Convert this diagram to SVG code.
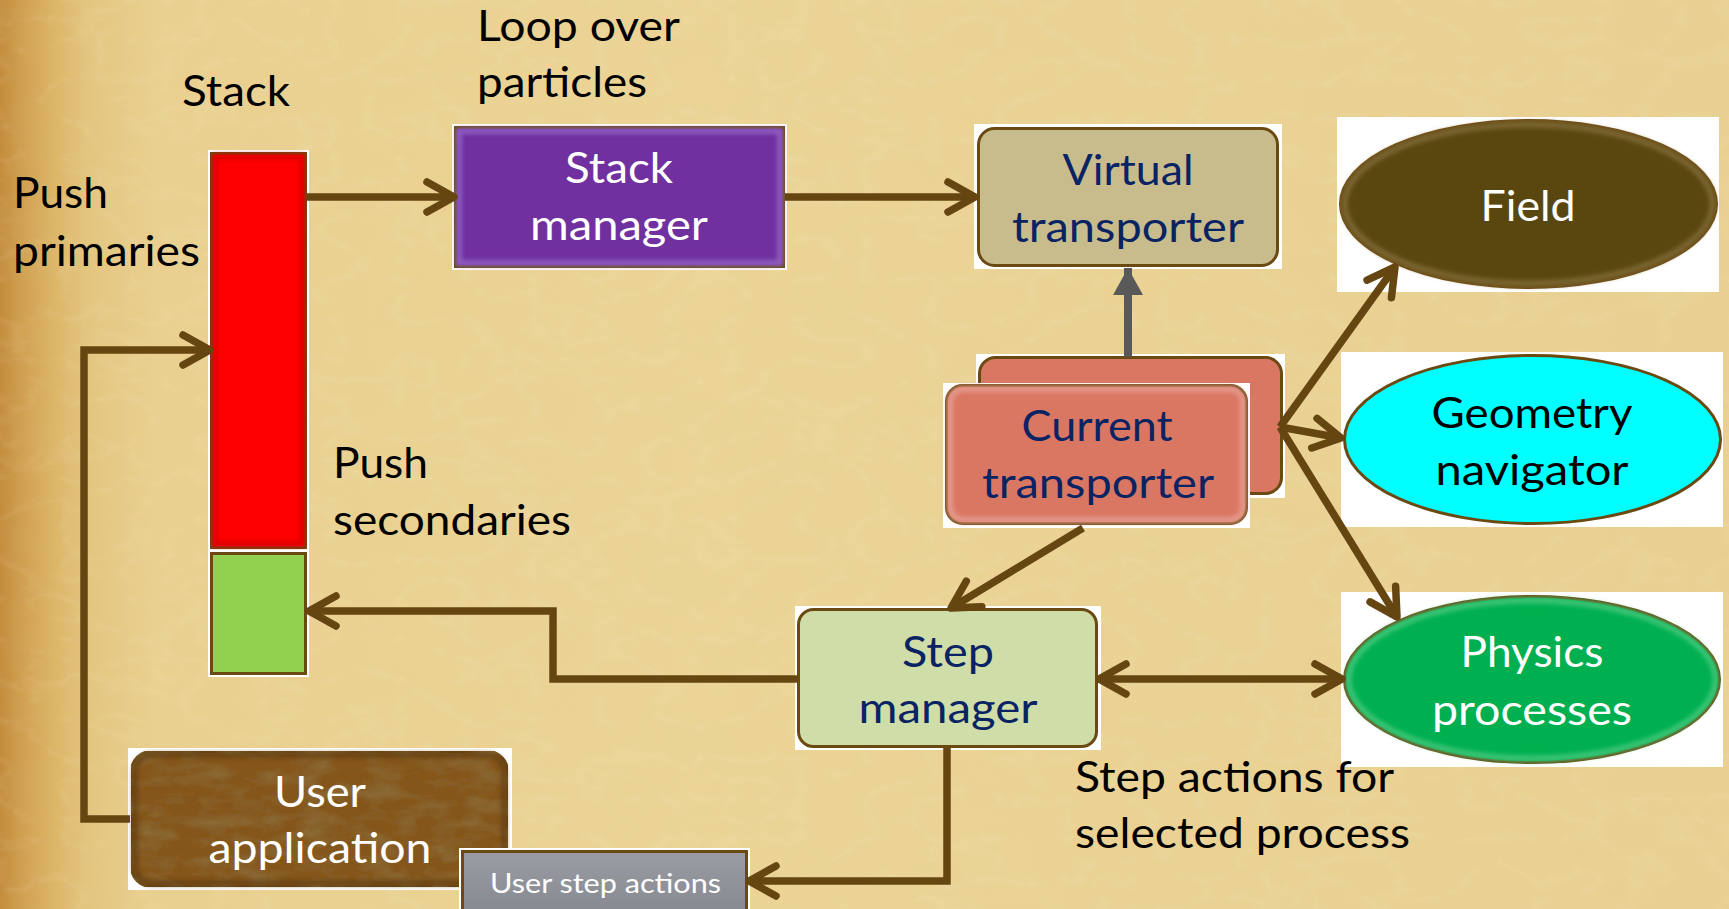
<svg xmlns="http://www.w3.org/2000/svg" width="1729" height="909" viewBox="0 0 1729 909">
<defs>
  <style>
    text { font-family: "Lato", "Liberation Sans", sans-serif; }
    .big { font-size: 43px; }
    .small { font-size: 27px; }
    .mid { text-anchor: middle; }
    .ink { fill: #000000; }
    .navy { fill: #0a2363; }
    .white { fill: #ffffff; }
    .bg { fill: #ffffff; }
    .edge { stroke: #6b4a12; stroke-width: 3; }
    .wire { fill: none; stroke: #654510; stroke-width: 7.5; stroke-linecap: butt; stroke-linejoin: miter; }
    .glow { fill: none; stroke-width: 6; filter: url(#soft); }
  </style>
  <linearGradient id="paperTone" x1="0" y1="0" x2="1" y2="0">
    <stop offset="0" stop-color="#c28c3c"/>
    <stop offset="0.012" stop-color="#d09f50"/>
    <stop offset="0.03" stop-color="#dbb466"/>
    <stop offset="0.05" stop-color="#e3c57f"/>
    <stop offset="0.09" stop-color="#e9d090"/>
    <stop offset="0.4" stop-color="#ebd496"/>
    <stop offset="1" stop-color="#e9d092"/>
  </linearGradient>
  <linearGradient id="grayFace" x1="0" y1="0" x2="0" y2="1">
    <stop offset="0" stop-color="#9a9ca4"/>
    <stop offset="1" stop-color="#85878f"/>
  </linearGradient>
  <filter id="paperNoise" x="0" y="0" width="100%" height="100%">
    <feTurbulence type="turbulence" baseFrequency="0.015 0.025" numOctaves="4" seed="7" result="n"/>
    <feColorMatrix in="n" type="matrix" values="0 0 0 0 1  0 0 0 0 0.97  0 0 0 0 0.85  -2.2 0 0 0 0.55"/>
  </filter>
  <filter id="paperDark" x="0" y="0" width="100%" height="100%">
    <feTurbulence type="fractalNoise" baseFrequency="0.01 0.018" numOctaves="4" seed="21" result="n"/>
    <feColorMatrix in="n" type="matrix" values="0 0 0 0 0.78  0 0 0 0 0.6  0 0 0 0 0.3  1.2 0 0 0 -0.5"/>
  </filter>
  <filter id="leather" x="0" y="0" width="100%" height="100%">
    <feTurbulence type="fractalNoise" baseFrequency="0.03 0.07" numOctaves="5" seed="3" result="n"/>
    <feColorMatrix in="n" type="matrix" values="0 0 0 0 0.26  0 0 0 0 0.15  0 0 0 0 0.04  2.0 0 0 0 -0.8" result="dark"/>
    <feComposite in="dark" in2="SourceGraphic" operator="in" result="darkIn"/>
    <feMerge><feMergeNode in="SourceGraphic"/><feMergeNode in="darkIn"/></feMerge>
  </filter>
  <filter id="soft" x="-5%" y="-5%" width="110%" height="110%">
    <feGaussianBlur stdDeviation="2"/>
  </filter>
  <marker id="chev" viewBox="-40 -22 46 44" markerWidth="46" markerHeight="44" refX="0" refY="0" orient="auto-start-reverse" markerUnits="userSpaceOnUse">
    <path d="M-27,-15 L0,0 L-27,15" fill="none" stroke="#654510" stroke-width="7.5" stroke-linecap="round" stroke-linejoin="round"/>
  </marker>
  <marker id="tri" viewBox="-30 -16 32 32" markerWidth="32" markerHeight="32" refX="0" refY="0" orient="auto" markerUnits="userSpaceOnUse">
    <path d="M0,0 L-27,-15 L-27,15 Z" fill="#595959"/>
  </marker>
</defs>

<!-- parchment backdrop -->
<rect x="0" y="0" width="1729" height="909" fill="url(#paperTone)"/>
<rect x="0" y="0" width="1729" height="909" filter="url(#paperDark)" opacity="0.15"/>
<rect x="0" y="0" width="1729" height="909" filter="url(#paperNoise)" opacity="0.17"/>

<!-- particle stack: primaries (red) over secondaries (green) -->
<g id="stack">
  <rect class="bg" x="208" y="150" width="101" height="401"/>
  <rect x="211.5" y="153.5" width="94" height="394" fill="#ff0000" class="edge"/>
  <rect x="215" y="157" width="87" height="387" fill="none" stroke="#e00000" class="glow"/>
  <rect class="bg" x="208" y="550" width="101" height="127"/>
  <rect x="211.5" y="553.5" width="94" height="120" fill="#92d050" class="edge"/>
</g>

<g id="stack-manager">
  <rect class="bg" x="452" y="124" width="335" height="146"/>
  <rect x="455.5" y="127.5" width="328" height="139" fill="#7030a0" class="edge"/>
  <rect x="459" y="131" width="321" height="132" stroke="#8d5cbd" class="glow"/>
  <text class="big mid white" x="619" y="183" textLength="108" lengthAdjust="spacingAndGlyphs">Stack</text>
  <text class="big mid white" x="619" y="240" textLength="178" lengthAdjust="spacingAndGlyphs">manager</text>
</g>

<g id="virtual-transporter">
  <rect class="bg" x="974" y="124" width="308" height="145"/>
  <rect x="978.5" y="128.5" width="299" height="137" rx="16" fill="#c8bc8d" class="edge"/>
  <text class="big mid navy" x="1128" y="185" textLength="131" lengthAdjust="spacingAndGlyphs">Virtual</text>
  <text class="big mid navy" x="1128" y="242" textLength="232" lengthAdjust="spacingAndGlyphs">transporter</text>
</g>

<g id="field">
  <rect class="bg" x="1337" y="117" width="382" height="175"/>
  <ellipse cx="1528.5" cy="204" rx="188" ry="83.5" fill="#5a4710" class="edge"/>
  <ellipse cx="1528.5" cy="204" rx="184" ry="79.5" stroke="#7c6632" class="glow"/>
  <text class="big mid white" x="1528" y="221" textLength="95" lengthAdjust="spacingAndGlyphs">Field</text>
</g>

<g id="geometry-navigator">
  <rect class="bg" x="1341" y="352" width="382" height="175"/>
  <ellipse cx="1532.5" cy="439.5" rx="188" ry="84" fill="#00ffff" class="edge"/>
  <text class="big mid ink" x="1532" y="428" textLength="201" lengthAdjust="spacingAndGlyphs">Geometry</text>
  <text class="big mid ink" x="1532" y="485" textLength="193" lengthAdjust="spacingAndGlyphs">navigator</text>
</g>

<g id="current-transporter">
  <rect class="bg" x="976" y="354" width="309" height="144"/>
  <rect x="979.5" y="357.5" width="302" height="136" rx="16" fill="#da7762" class="edge"/>
  <rect class="bg" x="943" y="383" width="307" height="145"/>
  <rect x="946.5" y="385.5" width="300" height="138" rx="16" fill="#da7762" class="edge"/>
  <rect x="950" y="389" width="293" height="131" rx="13" stroke="#e4988a" class="glow"/>
  <text class="big mid navy" x="1097" y="441" textLength="151" lengthAdjust="spacingAndGlyphs">Current</text>
  <text class="big mid navy" x="1098" y="498" textLength="232" lengthAdjust="spacingAndGlyphs">transporter</text>
</g>

<g id="step-manager">
  <rect class="bg" x="795" y="606" width="306" height="144"/>
  <rect x="798.5" y="609.5" width="298" height="137" rx="15" fill="#cfdea8" class="edge"/>
  <text class="big mid navy" x="948" y="667" textLength="92" lengthAdjust="spacingAndGlyphs">Step</text>
  <text class="big mid navy" x="948" y="723" textLength="179" lengthAdjust="spacingAndGlyphs">manager</text>
</g>

<g id="physics-processes">
  <rect class="bg" x="1341" y="592" width="382" height="175"/>
  <ellipse cx="1532" cy="679.5" rx="187.5" ry="83" fill="#00b050" class="edge"/>
  <ellipse cx="1532" cy="679.5" rx="183.5" ry="79" stroke="#3cc476" class="glow"/>
  <text class="big mid white" x="1532" y="667" textLength="143" lengthAdjust="spacingAndGlyphs">Physics</text>
  <text class="big mid white" x="1532" y="725" textLength="200" lengthAdjust="spacingAndGlyphs">processes</text>
</g>

<g id="user-application">
  <rect class="bg" x="128" y="748" width="384" height="142"/>
  <rect x="131.5" y="751.5" width="376" height="135" rx="20" fill="#85561f" class="edge" filter="url(#leather)"/>
  <rect x="135" y="755" width="369" height="128" rx="17" stroke="#5a3810" class="glow" opacity="0.6"/>
  <text class="big mid white" x="320" y="807" textLength="92" lengthAdjust="spacingAndGlyphs">User</text>
  <text class="big mid white" x="320" y="863" textLength="223" lengthAdjust="spacingAndGlyphs">application</text>
</g>

<g id="user-step-actions">
  <rect class="bg" x="459" y="848" width="291" height="70"/>
  <rect x="462.5" y="851.5" width="284" height="70" fill="url(#grayFace)" class="edge"/>
  <text class="small mid white" x="605.5" y="893" textLength="231" lengthAdjust="spacingAndGlyphs">User step actions</text>
</g>

<!-- free-standing captions -->
<g id="captions" class="ink">
  <text class="big" x="477" y="41" textLength="203" lengthAdjust="spacingAndGlyphs">Loop over</text>
  <text class="big" x="477" y="97" textLength="170" lengthAdjust="spacingAndGlyphs">particles</text>
  <text class="big" x="182" y="106" textLength="108" lengthAdjust="spacingAndGlyphs">Stack</text>
  <text class="big" x="13" y="208" textLength="95" lengthAdjust="spacingAndGlyphs">Push</text>
  <text class="big" x="13" y="266" textLength="187" lengthAdjust="spacingAndGlyphs">primaries</text>
  <text class="big" x="333" y="478" textLength="95" lengthAdjust="spacingAndGlyphs">Push</text>
  <text class="big" x="333" y="535" textLength="238" lengthAdjust="spacingAndGlyphs">secondaries</text>
  <text class="big" x="1075" y="792" textLength="319" lengthAdjust="spacingAndGlyphs">Step actions for</text>
  <text class="big" x="1075" y="848" textLength="335" lengthAdjust="spacingAndGlyphs">selected process</text>
</g>

<!-- connectors -->
<g id="connectors">
  <path class="wire" d="M307,197 H454" marker-end="url(#chev)"/>
  <path class="wire" d="M785,197 H975" marker-end="url(#chev)"/>
  <path class="wire" d="M130,819 H84 V350 H210" marker-end="url(#chev)"/>
  <path class="wire" d="M797,679 H553 V611 H309" marker-end="url(#chev)"/>
  <path class="wire" d="M947,748 V881 H749" marker-end="url(#chev)"/>
  <path class="wire" d="M1099,679 H1342" marker-start="url(#chev)" marker-end="url(#chev)"/>
  <path class="wire" d="M1083,528 L951,608" marker-end="url(#chev)"/>
  <path class="wire" d="M1280,427 L1395,267" marker-end="url(#chev)"/>
  <path class="wire" d="M1280,427 L1341,438" marker-end="url(#chev)"/>
  <path class="wire" d="M1280,427 L1397,617" marker-end="url(#chev)"/>
  <path d="M1128,357 V268" fill="none" stroke="#595959" stroke-width="8" marker-end="url(#tri)"/>
</g>
</svg>
